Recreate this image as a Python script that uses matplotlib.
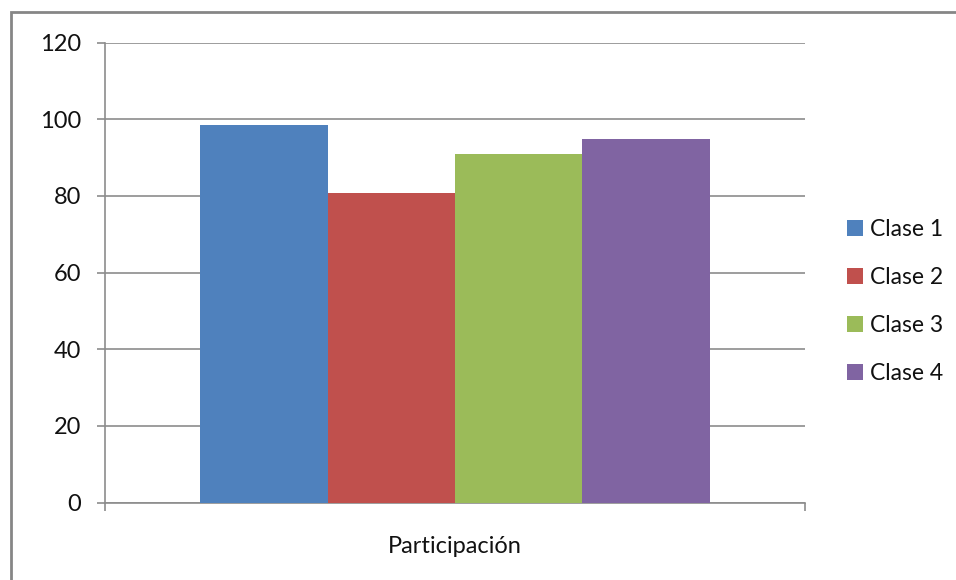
import matplotlib
matplotlib.use("Agg")
import matplotlib.pyplot as plt
from matplotlib.patches import Rectangle

categories = ["Participación"]
series_names = ["Clase 1", "Clase 2", "Clase 3", "Clase 4"]
series_values = [98.5, 80.8, 90.8, 94.8]
colors = ["#4F81BD", "#C0504D", "#9BBB59", "#8064A2"]
y_ticks = [0, 20, 40, 60, 80, 100, 120]

plt.rcParams['font.family'] = ['Lato', 'DejaVu Sans']

W, H = 956, 580
fig = plt.figure(figsize=(W / 100, H / 100), dpi=100)
ax = fig.add_axes([105 / W, 1 - 502.5 / H, 700 / W, 460 / H])

n = len(series_names)
gap = 1.5
w = 1.0 / (n + gap)
handles = []
for i, (name, val, c) in enumerate(zip(series_names, series_values, colors)):
    x = -n * w / 2 + w / 2 + i * w
    b = ax.bar(x, val, width=w, color=c, edgecolor='none', label=name, zorder=3)
    handles.append(b)

ax.set_xlim(-0.5, 0.5)
ax.set_ylim(0, 120)
ax.set_yticks(y_ticks)
ax.set_yticklabels([str(t) for t in y_ticks])

grid_c = "#8c8c8c"
ax.yaxis.grid(True, color=grid_c, linewidth=1.2, zorder=0)
ax.set_axisbelow(True)
for s in ['top', 'right']:
    ax.spines[s].set_visible(False)
for s in ['left', 'bottom']:
    ax.spines[s].set_color(grid_c)
    ax.spines[s].set_linewidth(1.2)

ax.tick_params(axis='y', direction='out', length=6, width=1.2, color=grid_c,
               labelsize=17, labelcolor='#111111', pad=11)
ax.set_xticks([-0.5, 0.5])
ax.set_xticklabels(['', ''])
ax.set_xticks([0], minor=True)
ax.set_xticklabels(categories, minor=True)
ax.tick_params(axis='x', which='major', direction='out', length=6, width=1.2, color=grid_c)
ax.tick_params(axis='x', which='minor', length=0, labelsize=17, labelcolor='#111111', pad=24)

leg = fig.legend(handles=handles, labels=series_names, loc='upper left',
                 bbox_to_anchor=(826 / W, 1 - 198 / H), frameon=False,
                 fontsize=16.5, handlelength=0.7, handleheight=0.7,
                 handletextpad=0.3, labelspacing=1.18, labelcolor='#111111')

border = Rectangle((10.5 / W, -0.05), 2.0, 1 - 12 / H + 0.05, transform=fig.transFigure,
                   fill=False, edgecolor='#868686', linewidth=2, clip_on=False)
fig.patches.append(border)

fig.savefig("out.png", dpi=100)
